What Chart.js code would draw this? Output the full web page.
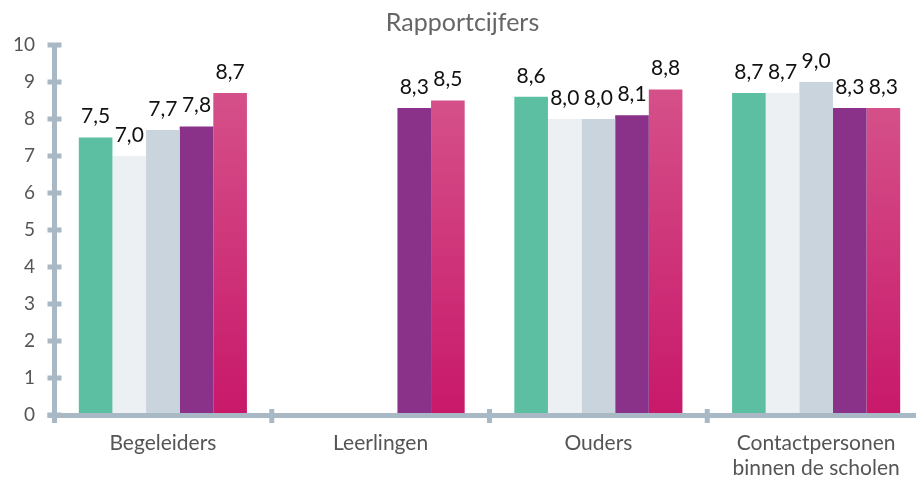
<!DOCTYPE html>
<html>
<head>
<meta charset="utf-8">
<script src="https://cdn.jsdelivr.net/npm/chart.js@4.4.0/dist/chart.umd.min.js"></script>
<style>
  html, body { margin: 0; padding: 0; background: #fff; overflow: hidden; }
  #wrap { width: 916px; height: 479px; overflow: hidden; position: relative; }
  #box { width: 938px; height: 479px; position: absolute; left: 0; top: 0; }
</style>
</head>
<body>
<div id="wrap"><div id="box"><canvas id="c"></canvas></div></div>
<script>
const categories = ["Begeleiders", "Leerlingen", "Ouders", ["Contactpersonen", "binnen de scholen"]];
const series1 = [7.5, null, 8.6, 8.7];
const series2 = [7.0, null, 8.0, 8.7];
const series3 = [7.7, null, 8.0, 9.0];
const series4 = [7.8, 8.3, 8.1, 8.3];
const series5 = [8.7, 8.5, 8.8, 8.3];
const yTicks = [0, 1, 2, 3, 4, 5, 6, 7, 8, 9, 10];
const titleText = "Rapportcijfers";

const AXIS = "#a8b9c5";
const FONT = "Lato, 'Open Sans', sans-serif";

function pinkGradient(ctx) {
  const chart = ctx.chart;
  const area = chart.chartArea;
  if (!area || ctx.raw == null) return "#cf2f79";
  const y = chart.scales.y;
  const top = y.getPixelForValue(ctx.raw);
  const bottom = y.getPixelForValue(0);
  const g = chart.ctx.createLinearGradient(0, top, 0, bottom);
  g.addColorStop(0, "#d55089");
  g.addColorStop(1, "#c8186a");
  return g;
}

const axisPlugin = {
  id: "axisPlugin",
  afterDatasetsDraw(chart) {
    const c = chart.ctx;
    const x = chart.scales.x, y = chart.scales.y;
    const ax = chart.chartArea.left + 0.5;
    const y0 = y.getPixelForValue(0);
    const yTop = y.getPixelForValue(yTicks[yTicks.length - 1]);
    c.save();
    c.fillStyle = AXIS;
    c.fillRect(ax - 2.5, yTop - 2, 5, y0 - yTop + 4);
    yTicks.forEach(v => {
      const py = y.getPixelForValue(v);
      c.fillRect(ax - 7, py - 2.5, 14, 5);
    });
    c.fillRect(ax - 7, y0 - 2, chart.width, 5);
    const xs = [ax];
    for (let i = 1; i < categories.length; i++) {
      xs.push((x.getPixelForValue(i - 1) + x.getPixelForValue(i)) / 2);
    }
    xs.forEach(px => c.fillRect(px - 2.5, y0 - 6, 5, 14));
    c.restore();
  }
};

const labelPlugin = {
  id: "labelPlugin",
  afterDatasetsDraw(chart) {
    const c = chart.ctx;
    c.save();
    c.font = "21px " + FONT;
    c.fillStyle = "#111";
    c.textAlign = "center";
    c.textBaseline = "middle";
    chart.data.datasets.forEach((ds, di) => {
      const meta = chart.getDatasetMeta(di);
      meta.data.forEach((el, i) => {
        const v = ds.data[i];
        if (v == null) return;
        c.fillText(v.toFixed(1).replace(".", ","), el.x, el.y - 21);
      });
    });
    c.restore();
  }
};

new Chart(document.getElementById("c"), {
  type: "bar",
  data: {
    labels: categories,
    datasets: [
      { label: "1", data: series1, backgroundColor: "#5cbfa1" },
      { label: "2", data: series2, backgroundColor: "#ecf0f3" },
      { label: "3", data: series3, backgroundColor: "#c9d4dd" },
      { label: "4", data: series4, backgroundColor: "#8a3189" },
      { label: "5", data: series5, backgroundColor: pinkGradient }
    ]
  },
  options: {
    responsive: true,
    maintainAspectRatio: false,
    animation: false,
    layout: { padding: { left: 0, right: 13, top: 0, bottom: 0 } },
    datasets: { bar: { categoryPercentage: 0.772, barPercentage: 1.0, borderWidth: 0 } },
    plugins: {
      legend: { display: false },
      tooltip: { enabled: false },
      title: {
        display: true,
        text: titleText,
        color: "#666",
        font: { family: FONT, size: 25, weight: "normal", lineHeight: 1.2 },
        padding: { top: 8, bottom: 7 }
      }
    },
    scales: {
      x: {
        grid: { display: false, drawTicks: false },
        border: { display: false },
        ticks: {
          color: "#555",
          font: { family: FONT, size: 21, lineHeight: 1.17 },
          padding: 16,
          maxRotation: 0,
          autoSkip: false
        },
        afterFit: s => { s.height = 64; }
      },
      y: {
        min: 0, max: 10,
        grid: { display: false, drawTicks: false },
        border: { display: false },
        ticks: {
          stepSize: 1,
          color: "#555",
          font: { family: FONT, size: 19 },
          padding: 19
        },
        afterFit: s => { s.width = 54; }
      }
    }
  },
  plugins: [axisPlugin, labelPlugin]
});
</script>
</body>
</html>
